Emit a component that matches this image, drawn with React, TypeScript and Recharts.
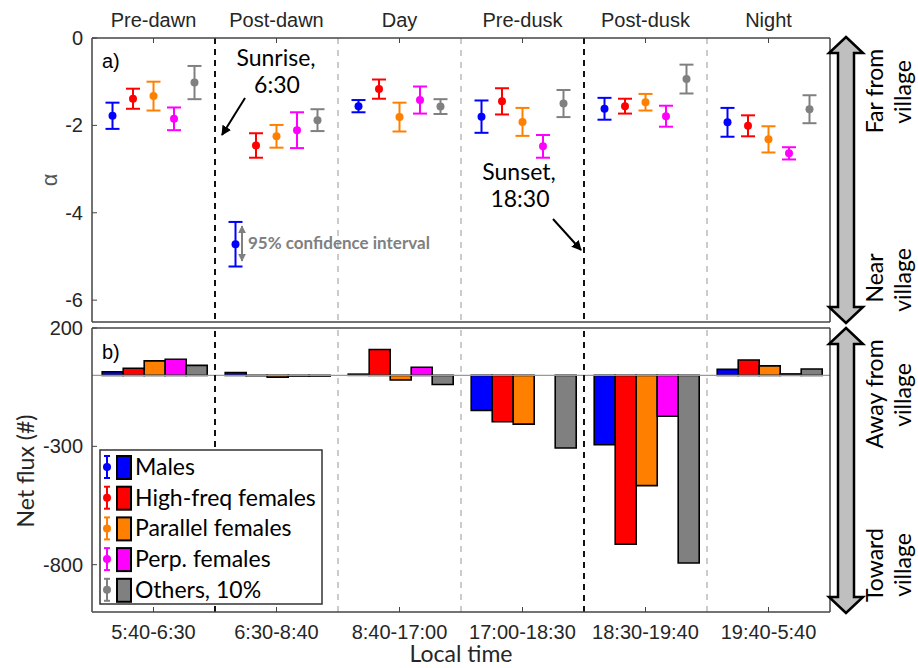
import React from 'react';
import {
  ComposedChart, Scatter, ErrorBar, Bar, XAxis, YAxis, ReferenceLine
} from 'recharts';

// periods and their time ranges
const periods = ['Pre-dawn', 'Post-dawn', 'Day', 'Pre-dusk', 'Post-dusk', 'Night'];
const timeRanges = ['5:40-6:30', '6:30-8:40', '8:40-17:00', '17:00-18:30', '18:30-19:40', '19:40-5:40'];

const seriesNames = ['Males', 'High-freq females', 'Parallel females', 'Perp. females', 'Others, 10%'];
const seriesKeys = ['males', 'highFreq', 'parallel', 'perp', 'others'];
const seriesColors = ['#0000ff', '#ff0000', '#ff8000', '#ff00ff', '#808080'];

// a) alpha with 95% confidence half-widths
const malesAlpha = [-1.78, null, -1.56, -1.80, -1.62, -1.93];
const malesErr = [0.30, null, 0.14, 0.37, 0.25, 0.33];
const highFreqAlpha = [-1.39, -2.46, -1.17, -1.45, -1.56, -2.01];
const highFreqErr = [0.23, 0.28, 0.22, 0.30, 0.17, 0.24];
const parallelAlpha = [-1.33, -2.25, -1.81, -1.92, -1.47, -2.32];
const parallelErr = [0.33, 0.26, 0.33, 0.32, 0.19, 0.30];
const perpAlpha = [-1.85, -2.11, -1.42, -2.48, -1.79, -2.64];
const perpErr = [0.26, 0.41, 0.31, 0.26, 0.24, 0.14];
const othersAlpha = [-1.02, -1.88, -1.57, -1.50, -0.94, -1.63];
const othersErr = [0.38, 0.25, 0.17, 0.31, 0.33, 0.32];

// example point used for the "95% confidence interval" note (Post-dawn, males slot)
const ciExampleAlpha = [null, -4.72, null, null, null, null];
const ciExampleErr = [null, 0.51, null, null, null, null];

// b) net flux
const malesFlux = [15, 12, 5, -148, -293, 25];
const highFreqFlux = [30, -2, 109, -196, -713, 65];
const parallelFlux = [61, -8, -20, -206, -466, 40];
const perpFlux = [68, -3, 34, 0, -173, 6];
const othersFlux = [42, -3, -39, -307, -793, 27];

const alphaTicks = [0, -2, -4, -6];
const fluxTicks = [200, -300, -800];
const separators = [1, 2, 3, 4, 5];
const sunEvents = [1, 4];

const alphaSeries = [
  [malesAlpha, malesErr],
  [highFreqAlpha, highFreqErr],
  [parallelAlpha, parallelErr],
  [perpAlpha, perpErr],
  [othersAlpha, othersErr],
];
const fluxSeries = [malesFlux, highFreqFlux, parallelFlux, perpFlux, othersFlux];

const slotOffsets = [-1 / 3, -1 / 6, 0, 1 / 6, 1 / 3];
const periodTicks = periods.map((_, i) => i + 0.5);

const toPoints = (vals: (number | null)[], errs: (number | null)[], slot: number) =>
  vals
    .map((y, i) => ({ x: i + 0.5 + slotOffsets[slot], y, err: errs[i] }))
    .filter((p) => p.y !== null);

const fluxRows = timeRanges.map((range, i) => {
  const row: any = { range };
  seriesKeys.forEach((k, s) => { row[k] = fluxSeries[s][i]; });
  return row;
});

const axisColor = '#444';
const textColor = '#262626';
const tickFont = '"Liberation Sans", Arial, sans-serif';
const noteFont = 'Lato, "Open Sans", sans-serif';

const axisLine = { stroke: axisColor, strokeWidth: 1.5 };
const tickStyle = { fill: textColor, fontSize: 20, fontFamily: tickFont };

const sepStroke = (s: number) => sunEvents.includes(s) ? '#111' : '#bbb';
const sepWidth = (s: number) => sunEvents.includes(s) ? 2 : 1.5;
const sepDash = (s: number) => sunEvents.includes(s) ? '6 5' : '6 6';

const dot = (color: string) => (props: any) =>
  <circle cx={props.cx} cy={props.cy} r={4} fill={color} />;

const TopPanel = () => (
  <ComposedChart width={918} height={330} margin={{ top: 8, right: 87, left: 30, bottom: 7 }}>
    <XAxis xAxisId="t" orientation="top" type="number" dataKey="x" domain={[0, 6]} ticks={periodTicks}
      tickFormatter={(v) => periods[Math.floor(v)]} height={30} tickSize={-5} tickMargin={16}
      axisLine={axisLine} tickLine={{ stroke: axisColor }} tick={tickStyle} interval={0} allowDataOverflow />
    <XAxis xAxisId="b" orientation="bottom" type="number" domain={[0, 6]} ticks={periodTicks}
      height={1} tickSize={-5} tick={false} axisLine={axisLine} tickLine={{ stroke: axisColor }} interval={0} allowDataOverflow />
    <YAxis yAxisId="l" type="number" dataKey="y" domain={[-6.5, 0]} ticks={alphaTicks} width={62}
      tickSize={-5} tickMargin={14} axisLine={axisLine} tickLine={{ stroke: axisColor }} tick={tickStyle} interval={0} allowDataOverflow />
    <YAxis yAxisId="r" orientation="right" type="number" domain={[-6.5, 0]} ticks={alphaTicks} width={1}
      tickSize={-5} tick={false} axisLine={axisLine} tickLine={{ stroke: axisColor }} interval={0} allowDataOverflow />

    {separators.map((s) => (
      <ReferenceLine key={s} xAxisId="t" yAxisId="l" x={s}
        stroke={sepStroke(s)} strokeWidth={sepWidth(s)} strokeDasharray={sepDash(s)} />
    ))}

    {alphaSeries.map(([vals, errs], s) => (
      <Scatter key={seriesKeys[s]} xAxisId="t" yAxisId="l" data={toPoints(vals, errs, s)} dataKey="y"
        fill={seriesColors[s]} shape={dot(seriesColors[s])} isAnimationActive={false}>
        <ErrorBar dataKey="err" direction="y" width={7} stroke={seriesColors[s]} strokeWidth={2} isAnimationActive={false} />
      </Scatter>
    ))}
    <Scatter xAxisId="t" yAxisId="l" data={toPoints(ciExampleAlpha, ciExampleErr, 0)} dataKey="y"
      fill={seriesColors[0]} shape={dot(seriesColors[0])} isAnimationActive={false}>
      <ErrorBar dataKey="err" direction="y" width={7} stroke={seriesColors[0]} strokeWidth={2} isAnimationActive={false} />
    </Scatter>
  </ComposedChart>
);

const BottomPanel = () => (
  <ComposedChart width={918} height={368} data={fluxRows} margin={{ top: 27, right: 87, left: 30, bottom: 0 }}
    barCategoryGap="8.3%" barGap={0}>
    <XAxis xAxisId="c" dataKey="range" orientation="bottom" height={56} tickSize={-5} tickMargin={18}
      axisLine={axisLine} tickLine={{ stroke: axisColor }} tick={tickStyle} interval={0}
      label={{ value: 'Local time', position: 'insideBottom', offset: 6, fill: textColor, fontSize: 23, fontFamily: noteFont }} />
    <XAxis xAxisId="ct" dataKey="range" orientation="top" height={1} tickSize={-5} tick={false}
      axisLine={axisLine} tickLine={{ stroke: axisColor }} interval={0} />
    <YAxis yAxisId="l" type="number" domain={[-1000, 200]} ticks={fluxTicks} width={62}
      tickSize={-5} tickMargin={14} axisLine={axisLine} tickLine={{ stroke: axisColor }} tick={tickStyle} interval={0} allowDataOverflow />
    <YAxis yAxisId="r" orientation="right" type="number" domain={[-1000, 200]} ticks={fluxTicks} width={1}
      tickSize={-5} tick={false} axisLine={axisLine} tickLine={{ stroke: axisColor }} interval={0} allowDataOverflow />

    <ReferenceLine xAxisId="c" yAxisId="l" y={0} stroke="#999" strokeWidth={1.2} />
    {separators.map((s) => (
      <ReferenceLine key={s} xAxisId="c" yAxisId="l" x={timeRanges[s]} position="start"
        stroke={sepStroke(s)} strokeWidth={sepWidth(s)} strokeDasharray={sepDash(s)} />
    ))}

    {seriesKeys.map((k, s) => (
      <Bar key={k} xAxisId="c" yAxisId="l" dataKey={k} fill={seriesColors[s]} stroke="#000" strokeWidth={1.6}
        isAnimationActive={false} />
    ))}
  </ComposedChart>
);

// big double arrow on the right side
const DoubleArrow = ({ x, y1, y2 }: { x: number; y1: number; y2: number }) => {
  const hh = 16, hw = 17, sw = 8;
  const pts = [
    [x, y1], [x + hw, y1 + hh], [x + sw, y1 + hh], [x + sw, y2 - hh], [x + hw, y2 - hh],
    [x, y2], [x - hw, y2 - hh], [x - sw, y2 - hh], [x - sw, y1 + hh], [x - hw, y1 + hh],
  ].map((p) => p.join(',')).join(' ');
  return <polygon points={pts} fill="#bfbfbf" stroke="#000" strokeWidth={2.5} strokeLinejoin="miter" />;
};

const VText = ({ x, y, children, size = 23, color = '#000', family = noteFont }: any) => (
  <text transform={`translate(${x},${y}) rotate(-90)`} textAnchor="middle" fontSize={size}
    fontFamily={family} fill={color}>{children}</text>
);

const Overlay = () => (
  <svg width={918} height={668} style={{ position: 'absolute', left: 0, top: 0, pointerEvents: 'none' }}>
    <defs>
      <marker id="ah" viewBox="0 0 10 10" refX="9" refY="5" markerWidth="5" markerHeight="5" orient="auto">
        <path d="M0,0 L10,5 L0,10 z" fill="#000" />
      </marker>
      <marker id="gh" viewBox="0 0 10 10" refX="9" refY="5" markerWidth="4" markerHeight="4" orient="auto-start-reverse">
        <path d="M0,0 L10,5 L0,10 z" fill="#808080" />
      </marker>
    </defs>

    {/* panel tags */}
    <text x={102} y={68} fontSize={20} fontFamily={tickFont} fill="#000">a)</text>
    <text x={102} y={359} fontSize={20} fontFamily={tickFont} fill="#000">b)</text>

    {/* axis titles */}
    <VText x={57} y={180} size={22} color="#555" family={tickFont}>α</VText>
    <VText x={34} y={471} size={23} color={textColor}>Net flux (#)</VText>

    {/* sunrise / sunset notes */}
    <text x={276} y={66} textAnchor="middle" fontSize={23} fontFamily={noteFont}>Sunrise,</text>
    <text x={277} y={93} textAnchor="middle" fontSize={23} fontFamily={noteFont}>6:30</text>
    <line x1={245} y1={98} x2={222} y2={135} stroke="#000" strokeWidth={2} markerEnd="url(#ah)" />
    <text x={519} y={180} textAnchor="middle" fontSize={23} fontFamily={noteFont}>Sunset,</text>
    <text x={520} y={207} textAnchor="middle" fontSize={23} fontFamily={noteFont}>18:30</text>
    <line x1={553} y1={219} x2={581} y2={250} stroke="#000" strokeWidth={2} markerEnd="url(#ah)" />

    {/* confidence interval note */}
    <line x1={242} y1={226} x2={242} y2={261} stroke="#808080" strokeWidth={2}
      markerStart="url(#gh)" markerEnd="url(#gh)" />
    <text x={248} y={249} fontSize={17} fontWeight="bold" fontFamily={noteFont} fill="#808080">95% confidence interval</text>

    {/* right side arrows */}
    <DoubleArrow x={846} y1={37} y2={323} />
    <DoubleArrow x={846} y1={328} y2={613} />
    <VText x={883} y={91}>Far from</VText>
    <VText x={911} y={92}>village</VText>
    <VText x={883} y={278}>Near</VText>
    <VText x={911} y={280}>village</VText>
    <VText x={883} y={394}>Away from</VText>
    <VText x={911} y={395}>village</VText>
    <VText x={883} y={565}>Toward</VText>
    <VText x={911} y={565}>village</VText>

    {/* legend */}
    <rect x={100} y={450} width={222} height={154} fill="#fff" stroke="#333" strokeWidth={1.5} />
    {seriesNames.map((name, i) => {
      const cy = 467 + i * 30.7;
      const c = seriesColors[i];
      return (
        <g key={name}>
          <line x1={107} y1={cy - 11} x2={107} y2={cy + 11} stroke={c} strokeWidth={2} />
          <line x1={104} y1={cy - 11} x2={110} y2={cy - 11} stroke={c} strokeWidth={2} />
          <line x1={104} y1={cy + 11} x2={110} y2={cy + 11} stroke={c} strokeWidth={2} />
          <circle cx={107} cy={cy} r={4} fill={c} />
          <rect x={117} y={cy - 11} width={14} height={23} fill={c} stroke="#000" strokeWidth={2} />
          <text x={135} y={cy + 8} fontSize={23} fontFamily={noteFont} fill="#000">{name}</text>
        </g>
      );
    })}
  </svg>
);

export default function App() {
  return (
    <div style={{ position: 'absolute', left: 0, top: 0, width: 918, height: 668, background: '#fff' }}>
      <div style={{ position: 'absolute', left: 0, top: 0 }}>
        <TopPanel />
      </div>
      <div style={{ position: 'absolute', left: 0, top: 300 }}>
        <BottomPanel />
      </div>
      <Overlay />
    </div>
  );
}
